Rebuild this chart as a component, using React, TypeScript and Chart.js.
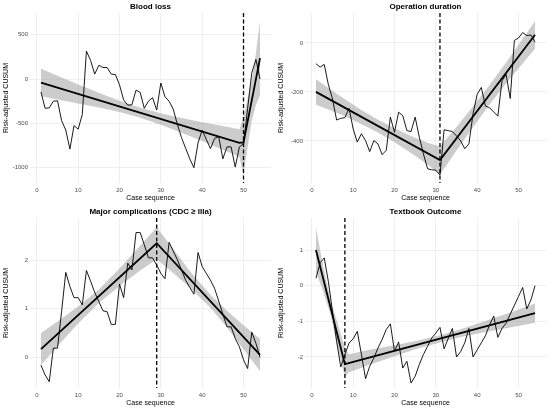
import { useEffect, useRef } from "react"
import { Chart, registerables, type Plugin } from "chart.js"

Chart.register(...registerables)
Chart.defaults.font.family = '"Liberation Sans", Arial, sans-serif'

const cases = [
  1, 2, 3, 4, 5, 6, 7, 8, 9, 10, 11, 12, 13, 14, 15, 16, 17, 18, 19, 20, 21, 22, 23, 24, 25, 26, 27,
  28, 29, 30, 31, 32, 33, 34, 35, 36, 37, 38, 39, 40, 41, 42, 43, 44, 45, 46, 47, 48, 49, 50, 51, 52,
  53, 54,
]
const xTicks = [0, 10, 20, 30, 40, 50]

// Blood loss
const bloodLoss = [
  -145, -330, -325, -250, -245, -470, -575, -790, -525, -565, -400, 315, 210, 55, 155, 130, 130, 55,
  50, -65, -235, -295, -290, -125, -150, -330, -250, -210, -350, -45, -200, -250, -340, -510, -660,
  -780, -900, -1000, -720, -576, -680, -785, -670, -650, -900, -765, -765, -993, -765, -730, -330, 70,
  220, 0,
]
const bloodLossFitX = [1, 49, 50, 54]
const bloodLossFitY = [-40, -720, -715, 235]
const bloodLossBandX = [1, 5, 10, 15, 20, 25, 30, 35, 40, 45, 49, 50, 51, 52, 53, 54]
const bloodLossBandHi = [115, 36, -61, -155, -245, -323, -387, -439, -486, -530, -565, -430, -220, -20, 290, 655]
const bloodLossBandLo = [-195, -230, -275, -321, -373, -437, -515, -605, -700, -796, -875, -1085, -760, -470, -290, -185]
const bloodLossTicks = [-1000, -500, 0, 500]

// Operation duration
const duration = [
  -85, -99, -88, -170, -229, -315, -308, -305, -267, -351, -405, -371, -399, -444, -399, -412, -456,
  -439, -303, -365, -283, -297, -358, -362, -303, -385, -453, -514, -518, -520, -540, -355, -358,
  -362, -380, -400, -432, -412, -290, -210, -182, -258, -265, -282, -299, -155, -129, -227, 10, 20,
  42, 30, 32, 3,
]
const durationFitX = [1, 31, 54]
const durationFitY = [-200, -478, 33]
const durationBandX = [1, 4, 8, 12, 16, 20, 24, 28, 31, 35, 39, 43, 47, 51, 54]
const durationBandHi = [-148, -184, -230, -274, -314, -348, -380, -408, -423, -343, -260, -172, -80, 16, 90]
const durationBandLo = [-252, -272, -300, -332, -366, -406, -450, -496, -537, -439, -344, -252, -166, -84, -24]
const durationTicks = [-400, -200, 0]

// Major complications
const complications = [
  -0.16, -0.36, -0.5, 0.19, 0.19, 0.95, 1.75, 1.46, 1.23, 1.23, 1.08, 1.79, 1.57, 1.34, 1.15, 0.96,
  0.94, 0.68, 0.68, 1.51, 1.23, 1.94, 1.8, 2.57, 2.57, 2.32, 2.05, 2.05, 1.9, 1.73, 1.62, 2.37, 2.19,
  2.01, 1.8, 1.59, 1.44, 1.3, 2.16, 1.87, 1.73, 1.59, 1.42, 1.16, 0.89, 0.63, 0.63, 0.39, 0.22, -0.05,
  -0.23, 0.52, 0.29, 0.0,
]
const complicationsFitX = [1, 29, 54]
const complicationsFitY = [0.17, 2.35, 0.05]
const complicationsBandX = [1, 5, 10, 15, 20, 25, 29, 33, 37, 42, 46, 50, 54]
const complicationsBandHi = [0.5, 0.74, 1.05, 1.4, 1.83, 2.3, 2.68, 2.23, 1.78, 1.29, 0.96, 0.66, 0.38]
const complicationsBandLo = [-0.16, 0.23, 0.7, 1.12, 1.47, 1.79, 2.02, 1.74, 1.44, 1.02, 0.62, 0.17, -0.28]
const complicationsTicks = [0, 1, 2]

// Textbook outcome
const textbook = [
  0.21, 0.64, 0.78, 0.12, -0.72, -1.56, -2.28, -1.93, -1.61, -1.49, -1.28, -1.93, -2.61, -2.26, -2.03,
  -1.75, -1.51, -1.23, -1.07, -1.84, -1.58, -2.31, -2.12, -2.73, -2.54, -2.21, -1.93, -1.7, -1.47,
  -1.33, -1.17, -1.77, -1.48, -1.2, -2.0, -1.85, -1.6, -1.2, -2.0, -1.8, -1.6, -1.4, -1.1, -0.85, -1.45,
  -1.2, -1.05, -0.8, -0.55, -0.3, -0.05, -0.65, -0.4, 0.0,
]
const textbookFitX = [1, 8, 54]
const textbookFitY = [1.0, -2.2, -0.77]
const textbookBandX = [1, 2.5, 4.5, 6.5, 8, 9, 14, 20, 26, 31, 36, 42, 48, 54]
const textbookBandHi = [1.62, 0.69, -0.4, -1.15, -1.75, -1.92, -1.8, -1.67, -1.53, -1.39, -1.22, -0.99, -0.75, -0.5]
const textbookBandLo = [0.38, -0.07, -0.8, -1.87, -2.55, -2.43, -2.22, -1.98, -1.75, -1.59, -1.44, -1.3, -1.17, -1.04]
const textbookTicks = [-2, -1, 0, 1]

const breakPoints = [50, 31, 29, 8]
const titles = ["Blood loss", "Operation duration", "Major complications (CDC \u2265 IIIa)", "Textbook Outcome"]

const pts = (xs: number[], ys: number[]) => xs.map((x, i) => ({ x, y: ys[i] }))

// dashed vertical line at the change point
const breakLine: Plugin<"line"> = {
  id: "breakLine",
  afterDatasetsDraw(chart, _args, opts: any) {
    const { ctx, chartArea } = chart
    const x = chart.scales.x.getPixelForValue(opts.value)
    ctx.save()
    ctx.strokeStyle = "#000"
    ctx.lineWidth = 1.3
    ctx.setLineDash([4, 2.5])
    ctx.beginPath()
    ctx.moveTo(x, chartArea.top)
    ctx.lineTo(x, chartArea.bottom)
    ctx.stroke()
    ctx.restore()
  },
}

interface PanelProps {
  title: string
  values: number[]
  fitX: number[]
  fitY: number[]
  bandX: number[]
  bandHi: number[]
  bandLo: number[]
  breakAt: number
  yMin: number
  yMax: number
  yTicks: number[]
}

function Panel({ title, values, fitX, fitY, bandX, bandHi, bandLo, breakAt, yMin, yMax, yTicks }: PanelProps) {
  const canvasRef = useRef<HTMLCanvasElement>(null)

  useEffect(() => {
    if (!canvasRef.current) return

    const chart = new Chart(canvasRef.current, {
      type: "line",
      data: {
        datasets: [
          { data: pts(bandX, bandLo), borderWidth: 0, pointRadius: 0, fill: false, order: 5 },
          {
            data: pts(bandX, bandHi),
            borderWidth: 0,
            pointRadius: 0,
            fill: "-1",
            backgroundColor: "rgba(153,153,153,0.5)",
            order: 4,
          },
          { data: pts(cases, values), borderColor: "#000", borderWidth: 0.9, pointRadius: 0, order: 3 },
          { data: pts(fitX, fitY), borderColor: "#000", borderWidth: 1.8, pointRadius: 0, order: 2 },
        ],
      },
      options: {
        responsive: false,
        animation: false,
        layout: { padding: { left: 0, right: 4, top: 0, bottom: 0 } },
        elements: { line: { tension: 0 } },
        scales: {
          x: {
            type: "linear",
            min: -1.65,
            max: 56.65,
            afterBuildTicks: (scale) => {
              scale.ticks = xTicks.map((value) => ({ value }))
            },
            afterFit: (scale) => {
              scale.height = 22
            },
            border: { display: false },
            grid: { color: "#EBEBEB", lineWidth: 0.8, drawTicks: false },
            ticks: {
              padding: 4,
              color: "#4d4d4d",
              font: { size: 6 },
              maxRotation: 0,
              autoSkip: false,
              callback: (v) => String(v),
            },
            title: {
              display: true,
              text: "Case sequence",
              color: "#000",
              font: { size: 7 },
              padding: { top: 0, bottom: 2.8 },
            },
          },
          y: {
            min: yMin,
            max: yMax,
            afterBuildTicks: (scale) => {
              scale.ticks = yTicks.map((value) => ({ value }))
            },
            afterFit: (scale) => {
              scale.width = 30
            },
            border: { display: false },
            grid: { color: "#EBEBEB", lineWidth: 0.8, drawTicks: false },
            ticks: {
              padding: 2,
              color: "#4d4d4d",
              font: { size: 6 },
              autoSkip: false,
              callback: (v) => String(v),
            },
            title: {
              display: true,
              text: "Risk-adjusted CUSUM",
              color: "#000",
              font: { size: 7 },
              padding: { top: 1.8, bottom: 0 },
            },
          },
        },
        plugins: {
          legend: { display: false },
          tooltip: { enabled: false },
          title: {
            display: true,
            text: title,
            fullSize: false,
            color: "#000",
            font: { size: 8, weight: "bold" },
            padding: { top: 2, bottom: 1.4 },
          },
          breakLine: { value: breakAt },
        } as any,
      },
      plugins: [breakLine],
    })

    return () => chart.destroy()
  }, [title, values, fitX, fitY, bandX, bandHi, bandLo, breakAt, yMin, yMax, yTicks])

  return <canvas ref={canvasRef} width={275} height={205} style={{ display: "block" }} />
}

export default function App() {
  return (
    <div
      style={{
        position: "absolute",
        left: 0,
        top: 0,
        width: 550,
        height: 410,
        background: "#fff",
        display: "grid",
        gridTemplateColumns: "275px 275px",
        gridTemplateRows: "205px 205px",
      }}
    >
      <Panel
        title={titles[0]}
        values={bloodLoss}
        fitX={bloodLossFitX}
        fitY={bloodLossFitY}
        bandX={bloodLossBandX}
        bandHi={bloodLossBandHi}
        bandLo={bloodLossBandLo}
        breakAt={breakPoints[0]}
        yMin={-1172}
        yMax={744}
        yTicks={bloodLossTicks}
      />
      <Panel
        title={titles[1]}
        values={duration}
        fitX={durationFitX}
        fitY={durationFitY}
        bandX={durationBandX}
        bandHi={durationBandHi}
        bandLo={durationBandLo}
        breakAt={breakPoints[1]}
        yMin={-572}
        yMax={122}
        yTicks={durationTicks}
      />
      <Panel
        title={titles[2]}
        values={complications}
        fitX={complicationsFitX}
        fitY={complicationsFitY}
        bandX={complicationsBandX}
        bandHi={complicationsBandHi}
        bandLo={complicationsBandLo}
        breakAt={breakPoints[2]}
        yMin={-0.63}
        yMax={2.87}
        yTicks={complicationsTicks}
      />
      <Panel
        title={titles[3]}
        values={textbook}
        fitX={textbookFitX}
        fitY={textbookFitY}
        bandX={textbookBandX}
        bandHi={textbookBandHi}
        bandLo={textbookBandLo}
        breakAt={breakPoints[3]}
        yMin={-2.87}
        yMax={1.9}
        yTicks={textbookTicks}
      />
    </div>
  )
}
